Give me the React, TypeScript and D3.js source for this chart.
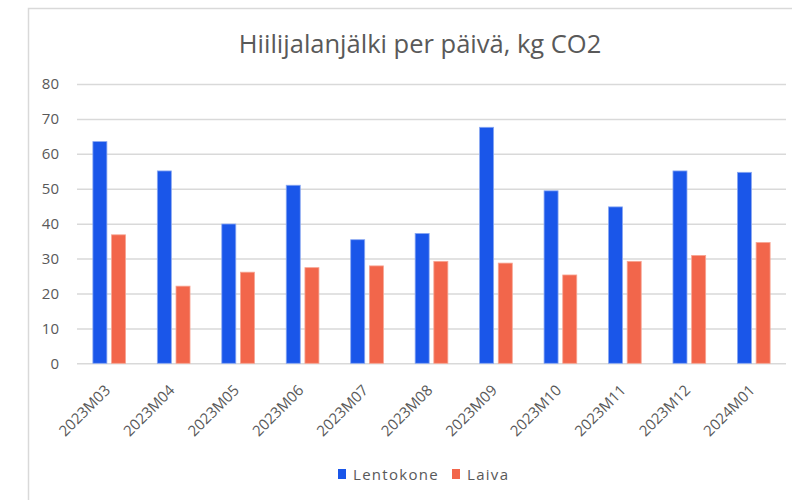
import React, { useEffect, useRef } from 'react';
import * as d3 from 'd3';

const months = [
  '2023M03', '2023M04', '2023M05', '2023M06', '2023M07', '2023M08',
  '2023M09', '2023M10', '2023M11', '2023M12', '2024M01',
];
const lentokone = [63.5, 55.1, 39.9, 51.0, 35.4, 37.2, 67.6, 49.4, 44.8, 55.1, 54.7];
const laiva = [36.8, 22.1, 26.1, 27.4, 27.9, 29.2, 28.7, 25.3, 29.2, 30.9, 34.6];
const yTicks = [0, 10, 20, 30, 40, 50, 60, 70, 80];
const seriesNames = ['Lentokone', 'Laiva'];
const colors = ['#1a56e9', '#f2664b'];
const strokes = ['#8aa8f2', '#f7a593'];

const W = 792;
const H = 500;
const FONT = '"Open Sans", "Noto Sans", sans-serif';

export default function App() {
  const ref = useRef<SVGSVGElement>(null);

  useEffect(() => {
    const svg = d3.select(ref.current);
    svg.selectAll('*').remove();

    const left = 77;
    const right = 786;
    const top = 84;
    const bottom = 363.3;

    // chart frame
    svg
      .append('rect')
      .attr('x', 28.5)
      .attr('y', 8.5)
      .attr('width', 800)
      .attr('height', 600)
      .attr('fill', '#fff')
      .attr('stroke', '#d9d9d9')
      .attr('stroke-width', 1.5);

    svg
      .append('text')
      .attr('x', 420)
      .attr('y', 53)
      .attr('text-anchor', 'middle')
      .style('font-family', FONT)
      .style('font-size', '25.5px')
      .style('fill', '#595959')
      .text('Hiilijalanjälki per päivä, kg CO2');

    const x = d3.scaleBand().domain(months).range([left, right]);
    const inner = d3
      .scaleBand()
      .domain(seriesNames)
      .range([0, x.bandwidth()])
      .paddingInner(0.25)
      .paddingOuter(0.85);
    const y = d3.scaleLinear().domain([0, 80]).range([bottom, top]);

    const yAxisGrid = d3
      .axisLeft(y)
      .tickValues(yTicks)
      .tickSize(-(right - left))
      .tickFormat(() => '');

    svg
      .append('g')
      .attr('transform', `translate(${left}, 0)`)
      .call(yAxisGrid)
      .call(g => g.select('.domain').remove())
      .call(g => g.selectAll('line').attr('stroke', '#d9d9d9').attr('stroke-width', 1.5));

    svg
      .append('g')
      .selectAll('text')
      .data(yTicks)
      .enter()
      .append('text')
      .attr('x', 59)
      .attr('y', d => y(d))
      .attr('dy', '0.35em')
      .attr('text-anchor', 'end')
      .style('font-family', FONT)
      .style('font-size', '15px')
      .style('fill', '#595959')
      .text(d => d);

    const series = [lentokone, laiva];
    series.forEach((vals, si) => {
      svg
        .append('g')
        .selectAll('rect')
        .data(vals)
        .enter()
        .append('rect')
        .attr('x', (d, i) => (x(months[i]) as number) + (inner(seriesNames[si]) as number))
        .attr('y', d => y(d))
        .attr('width', inner.bandwidth())
        .attr('height', d => bottom - y(d))
        .attr('fill', colors[si])
        .attr('stroke', strokes[si])
        .attr('stroke-width', 0.8);
    });

    svg
      .append('g')
      .selectAll('text')
      .data(months)
      .enter()
      .append('text')
      .attr('transform', d => `translate(${(x(d) as number) + x.bandwidth() / 2 + 2}, ${bottom + 28}) rotate(-45)`)
      .attr('text-anchor', 'end')
      .style('font-family', FONT)
      .style('font-size', '15px')
      .style('fill', '#595959')
      .text(d => d);

    // legend
    const legendX = [338, 452];
    const legend = svg
      .append('g')
      .selectAll('g')
      .data(seriesNames)
      .enter()
      .append('g')
      .attr('transform', (d, i) => `translate(${legendX[i]}, 469)`);
    legend
      .append('rect')
      .attr('width', 8)
      .attr('height', 10)
      .attr('fill', (d, i) => colors[i]);
    legend
      .append('text')
      .attr('x', 15)
      .attr('y', 11)
      .style('font-family', FONT)
      .style('font-size', '15px')
      .style('letter-spacing', '1.3px')
      .style('fill', '#595959')
      .text(d => d);
  }, []);

  return (
    <div style={{ position: 'absolute', left: 0, top: 0 }}>
      <svg ref={ref} width={W} height={H} style={{ display: 'block', background: '#fff' }} />
    </div>
  );
}
